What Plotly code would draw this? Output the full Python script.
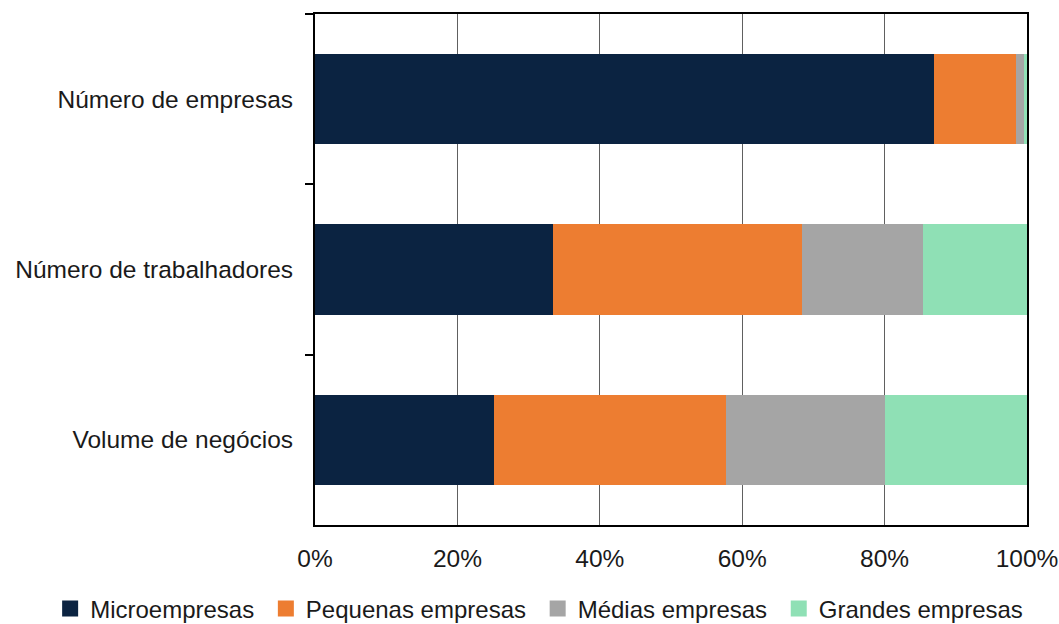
import plotly.graph_objects as go

# Share of each company size class (%)
categories = ["Número de empresas", "Número de trabalhadores", "Volume de negócios"]
series_names = ["Microempresas", "Pequenas empresas", "Médias empresas", "Grandes empresas"]
micro = [86.9, 33.4, 25.2]
pequenas = [11.6, 35.0, 32.5]
medias = [1.1, 17.0, 22.3]
grandes = [0.4, 14.6, 20.0]
tick_values = [0, 20, 40, 60, 80, 100]
tick_labels = ["0%", "20%", "40%", "60%", "80%", "100%"]

colors = ["#0b2341", "#ed7d31", "#a5a5a5", "#8fe0b5"]
values = [micro, pequenas, medias, grandes]
FONT = "Liberation Sans, Arial, sans-serif"
PAD = "\u00a0"

fig = go.Figure()
for name, vals, col in zip(series_names, values, colors):
    fig.add_trace(go.Bar(
        y=categories, x=vals, name=name, orientation="h",
        marker=dict(color=col, line=dict(width=0)),
        width=0.53, showlegend=False,
    ))

# Legend entries with larger square swatches
for i, (name, col) in enumerate(zip(series_names, colors)):
    label = name + (PAD if i < len(series_names) - 1 else "")
    fig.add_trace(go.Scatter(
        x=[None], y=[None], mode="markers", name=label,
        marker=dict(symbol="square", size=16, color=col),
        showlegend=True,
    ))

fig.update_layout(
    barmode="stack",
    width=1059, height=624,
    margin=dict(l=315, r=32, t=14, b=99, autoexpand=False),
    paper_bgcolor="white", plot_bgcolor="white",
    font=dict(family=FONT, size=24.5, color="#1a1a1a"),
    legend=dict(
        orientation="h",
        x=-0.372, xanchor="left", y=-0.164, yanchor="middle",
        font=dict(size=24, color="#1a1a1a"),
        itemsizing="trace", traceorder="normal",
        tracegroupgap=0,
    ),
)
fig.update_xaxes(
    range=[0, 100], tickvals=tick_values, ticktext=tick_labels,
    showgrid=True, gridcolor="#606060", gridwidth=1.2,
    showline=True, linecolor="black", linewidth=2, mirror=True,
    ticks="", ticklabelstandoff=11, zeroline=False, automargin=False,
)
fig.update_yaxes(
    type="category", categoryorder="array", categoryarray=categories,
    autorange="reversed",
    tickson="boundaries", ticks="outside", ticklen=8, tickwidth=2, tickcolor="black",
    showgrid=False, showline=True, linecolor="black", linewidth=2, mirror=True,
    ticklabelstandoff=15, automargin=False,
)

fig.write_html("out.html")
